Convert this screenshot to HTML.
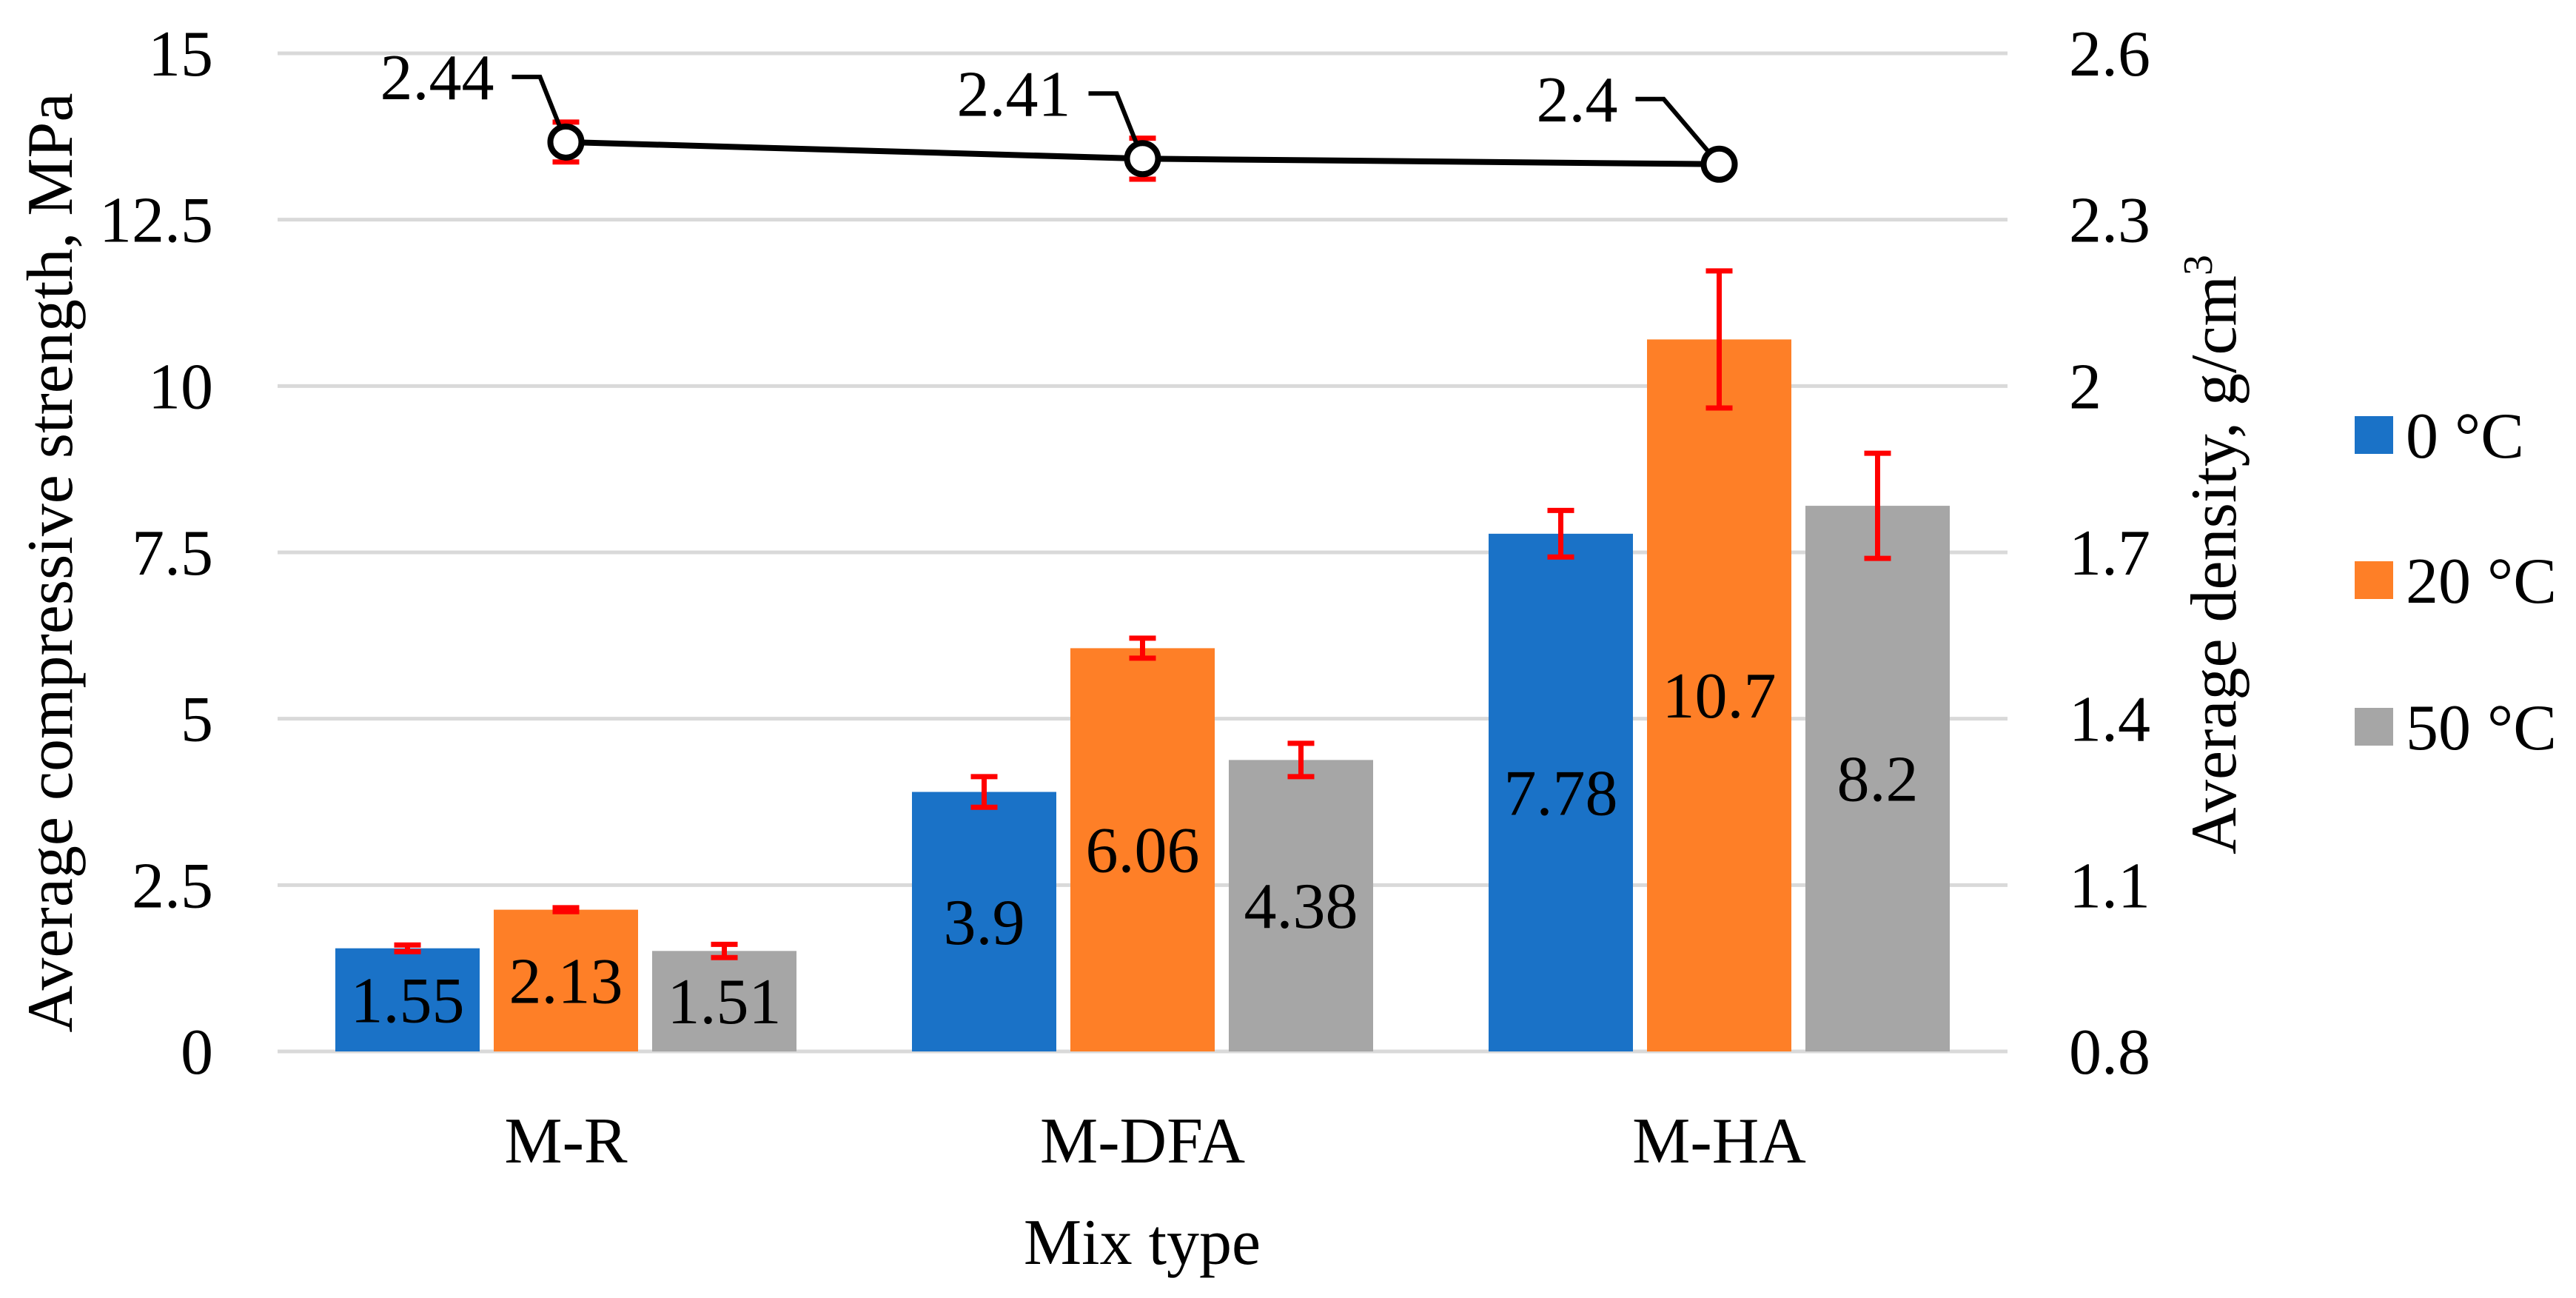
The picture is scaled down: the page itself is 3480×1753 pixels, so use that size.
<!DOCTYPE html>
<html><head><meta charset="utf-8"><style>
html,body{margin:0;padding:0;background:#fff;}
svg{display:block;font-family:"Liberation Serif",serif;}
</style></head><body>
<svg id="chart" width="3480" height="1753" viewBox="0 0 3480 1753" xmlns="http://www.w3.org/2000/svg"></svg>
<script>
const categories = ["M-R","M-DFA","M-HA"];
const seriesNames = ["0 °C","20 °C","50 °C"];
const strength0 = [1.55,3.9,7.78];
const strength20 = [2.13,6.06,10.7];
const strength50 = [1.51,4.38,8.2];
const err0 = [0.05,0.23,0.35];
const err20 = [0.03,0.15,1.03];
const err50 = [0.1,0.25,0.79];
const density = [2.44,2.41,2.40];
const densityErr = [0.036,0.037,0];
const leftTicks = [0,2.5,5,7.5,10,12.5,15];
const leftTickLabels = ["0","2.5","5","7.5","10","12.5","15"];
const rightTicks = [0.8,1.1,1.4,1.7,2,2.3,2.6];
const rightTickLabels = ["0.8","1.1","1.4","1.7","2","2.3","2.6"];

const svg = document.getElementById('chart');
const NS = 'http://www.w3.org/2000/svg';
const X0 = 375, X1 = 2712, Y0 = 1420, Y1 = 72;
const FS = 88;
const colors = ["#1a72c7","#fe7f27","#a6a6a6"];
const series = [strength0, strength20, strength50];
const errs = [err0, err20, err50];
function yL(v){ return Y0 - (v/15)*(Y0-Y1); }
function yR(v){ return Y0 - ((v-0.8)/1.8)*(Y0-Y1); }
function xC(i){ return X0 + (X1-X0)/categories.length*(i+0.5); }
function mk(tag, attrs, text){
  const e = document.createElementNS(NS, tag);
  for (const k in attrs) e.setAttribute(k, attrs[k]);
  if (text !== undefined) e.textContent = text;
  svg.appendChild(e);
  return e;
}
leftTicks.forEach((t,i)=>{
  const g = mk('line',{x1:X0,x2:X1,y1:yL(t),y2:yL(t),stroke:'#d9d9d9','stroke-width':5});
  
  
  const l = mk('text',{x:288,y:yL(t)+30,'text-anchor':'end','font-size':FS},leftTickLabels[i]);
  
  
});
rightTicks.forEach((t,i)=>{
  const l = mk('text',{x:2795,y:yR(t)+30,'font-size':FS},rightTickLabels[i]);
  
  
});
const BW = 195, STRIDE = 214;
series.forEach((s,si)=>{
  s.forEach((v,ci)=>{
    const cx = xC(ci) + (si-1)*STRIDE;
    const b = mk('rect',{x:cx-BW/2,y:yL(v),width:BW,height:Y0-yL(v),fill:colors[si]});
    
    
    const e = errs[si][ci];
    const ya = yL(v+e), yb = yL(v-e);
    const p = mk('path',{d:`M${cx-18},${ya}H${cx+18}M${cx},${ya}V${yb}M${cx-18},${yb}H${cx+18}`,stroke:'#ff0000','stroke-width':7,fill:'none'});
    
    
    const t = mk('text',{x:cx,y:yL(v/2)+30,'text-anchor':'middle','font-size':FS},String(v));
    
    
  });
});
const pts = density.map((d,i)=>[xC(i),yR(d)]);
const ln = mk('polyline',{points:pts.map(p=>p.join(',')).join(' '),fill:'none',stroke:'#000','stroke-width':8});


density.forEach((d,i)=>{
  const [x,y] = pts[i];
  const e = densityErr[i];
  if (e>0){
    const ya=yR(d+e), yb=yR(d-e);
    const p = mk('path',{d:`M${x-18},${ya}H${x+18}M${x},${ya}V${yb}M${x-18},${yb}H${x+18}`,stroke:'#ff0000','stroke-width':7,fill:'none'});
    
    
  }
  const lx = x-35 - (i===2?40:0), ly = y-88;
  const leader = mk('polyline',{points:`${x},${y} ${lx},${ly} ${lx-38},${ly}`,fill:'none',stroke:'#000','stroke-width':6});
  
  
  const c = mk('circle',{cx:x,cy:y,r:21,fill:'#fff',stroke:'#000','stroke-width':8});
  
  
  const t = mk('text',{x:lx-62,y:ly+30,'text-anchor':'end','font-size':FS},String(d));
  
  
});
categories.forEach((c,i)=>{
  const t = mk('text',{x:xC(i),y:1570,'text-anchor':'middle','font-size':FS},c);
  
  
});
const xt = mk('text',{x:1543,y:1707,'text-anchor':'middle','font-size':FS},'Mix type');


const yt = mk('text',{x:0,y:0,'text-anchor':'middle','font-size':FS,transform:'translate(97,760) rotate(-90)'},'Average compressive strength, MPa');


const yt2 = mk('text',{x:0,y:0,'text-anchor':'middle','font-size':FS,transform:'translate(3020,749) rotate(-90)'});


yt2.innerHTML = 'Average density, g/cm<tspan dy="-32" font-size="56">3</tspan>';
const legY = [562,758,956];
seriesNames.forEach((n,i)=>{
  const r = mk('rect',{x:3181,y:legY[i],width:52,height:51,fill:colors[i]});
  
  
  const t = mk('text',{x:3250,y:legY[i]+56,'font-size':FS},n);
  
  
});
</script>
</body></html>
